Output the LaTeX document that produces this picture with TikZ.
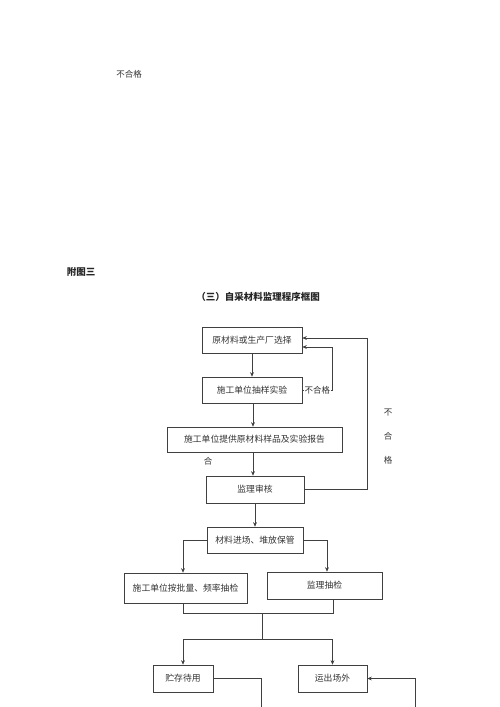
\documentclass[tikz,border=0pt]{standalone}
\usepackage{fontspec}
\usepackage{tikz}
\usetikzlibrary{arrows.meta}
\newfontfamily\cjk{Noto Sans CJK SC}
\tikzset{
stepbox/.style={draw=black!75, line width=0.6pt, rectangle, inner sep=0pt,
  font=\cjk\fontsize{8.8}{10}\selectfont, text=black!80},
link/.style={draw=black!75, line width=0.6pt},
arr/.style={link, -{Stealth[length=4.5pt,width=3.8pt]}},
lbl/.style={font=\cjk\fontsize{8.5}{10}\selectfont, text=black!80, inner sep=0pt}
}

\begin{document}
\begin{tikzpicture}[x=1pt, y=-1pt]
\useasboundingbox (0,0) rectangle (500,707);
% headings
\node[lbl] (fail0) at (129,74) {不合格};
\node[lbl, font=\cjk\bfseries\fontsize{9.5}{11}\selectfont, text=black!85] (appx) at (81,272) {附图三};
\node[lbl, font=\cjk\bfseries\fontsize{9.5}{11}\selectfont, text=black!85] (title) at (258,297) {（三）自采材料监理程序框图};
% boxes
\node[stepbox, minimum width=100pt, minimum height=26pt] (sel) at (252,340) {原材料或生产厂选择};
\node[stepbox, minimum width=100pt, minimum height=26pt] (test) at (252,390) {施工单位抽样实验};
\node[stepbox, minimum width=175pt, minimum height=25pt] (rep) at (254.5,439.5) {施工单位提供原材料样品及实验报告};
\node[stepbox, minimum width=98pt, minimum height=27pt] (chk) at (255,489.5) {监理审核};
\node[stepbox, minimum width=96pt, minimum height=26pt] (store) at (255,540) {材料进场、堆放保管};
\node[stepbox, minimum width=123pt, minimum height=30pt] (self) at (185.5,588) {施工单位按批量、频率抽检};
\node[stepbox, minimum width=115pt, minimum height=27pt] (spot) at (324.5,585.5) {监理抽检};
\node[stepbox, minimum width=60pt, minimum height=27pt] (wait) at (183,678.5) {贮存待用};
\node[stepbox, minimum width=69pt, minimum height=27pt] (out) at (332.5,678.5) {运出场外};
% side labels
\node[lbl] (ok) at (208,461) {合};
\node[lbl] (failA) at (388,413) {不};
\node[lbl] (failB) at (388,436) {合};
\node[lbl] (failC) at (388,460) {格};
% helper points
\coordinate (jointL) at (183,613);
\coordinate (jointR) at (333,613);
\coordinate (jointM) at (262,613);
\coordinate (forkM) at (262,639);
\coordinate (loopR) at (367,489.5);
\coordinate (downA) at (261,707);
\coordinate (upB) at (415,707);
% connectors
\draw[arr] (sel) -- (test);
\draw[arr] ([xshift=1pt]test.south) -- ([xshift=1pt]test.south |- rep.north);
\draw[arr] ([xshift=-1.5pt]rep.south) -- ([xshift=-1.5pt]rep.south |- chk.north);
\draw[arr] (test.east) -- node[lbl, fill=white, inner sep=0.5pt] (fail1) {不合格} ++(30,0) |- ([yshift=-7pt]sel.east);
\draw[arr] (chk.east) -- (loopR) |- ([yshift=2pt]sel.east);
\draw[arr] (chk) -- (store);
\draw[arr] (store.west) -| (jointL |- self.north);
\draw[arr] (store.east) -| ([xshift=2.5pt]spot.north);
\draw[link] (jointL |- self.south) -- (jointL) -- (jointR) -- (jointR |- spot.south);
\draw[link] (jointM) -- (forkM);
\draw[arr] (forkM) -| (wait.north);
\draw[arr] (forkM) -| (out.north);
\draw[link] (wait.east) -| (downA);
\draw[arr] (upB) |- (out.east);
\end{tikzpicture}
\end{document}
